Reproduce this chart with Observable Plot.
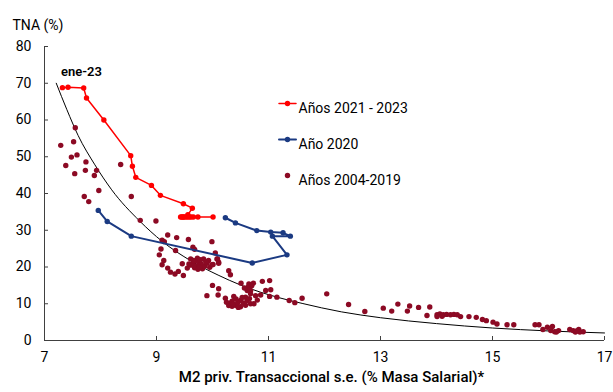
<!DOCTYPE html>
<html>
<head>
<meta charset="utf-8">
<script src="https://cdn.jsdelivr.net/npm/d3@7"></script>
<script src="https://cdn.jsdelivr.net/npm/@observablehq/plot@0.6"></script>
<style>
  html, body { margin: 0; padding: 0; background: #fff; }
  #chart svg { font-family: Roboto, "Noto Sans", sans-serif; display: block; }
</style>
</head>
<body>
<div id="chart"></div>
<script>
// ---- Tick labels ----
const xTicks = [7, 9, 11, 13, 15, 17];
const yTicks = [0, 10, 20, 30, 40, 50, 60, 70, 80];

// ---- Texts ----
const yTitle = "TNA (%)";
const xTitle = "M2 priv. Transaccional s.e. (% Masa Salarial)*";
const annotation = "ene-23";
const seriesNames = ["Años 2021 - 2023", "Año 2020", "Años 2004-2019"];

// ---- Series: Años 2004-2019 (x = M2 % masa salarial, y = TNA %) ----
const histX = [
  7.55, 7.29, 7.52, 7.48, 7.58, 7.38, 7.74, 7.73, 7.54, 7.93, 7.89, 8.36, 7.97, 7.71, 7.79, 8.55, 8.71, 8.99,
  9.20, 9.36, 9.57, 9.14, 9.10, 9.08, 9.34, 9.65, 9.68, 9.99, 10.05, 10.08, 9.05, 9.13, 9.10, 9.20, 9.25, 9.33,
  9.39, 9.46, 9.48, 9.55, 9.61, 9.73, 9.84, 9.93, 9.82, 9.99, 10.11, 10.09, 9.65, 9.70, 9.76, 9.80, 9.68, 9.74,
  9.86, 9.90, 9.62, 9.72, 9.78, 9.88, 9.66, 9.58, 9.95, 9.77, 10.01, 10.11, 10.29, 10.32,
  10.00, 10.11, 9.90, 10.10, 10.23, 10.51, 10.65, 10.73, 10.89, 11.02, 10.68, 10.62, 10.68, 10.59, 10.77, 10.86,
  10.95, 11.04, 11.02, 11.15, 11.37, 11.47, 10.38, 10.35, 10.29, 10.35, 10.41, 10.50, 10.59, 10.68, 10.74, 10.50,
  10.62, 10.45, 10.55, 10.32, 10.42, 10.64, 10.57, 10.70, 10.46, 10.25, 10.37, 10.66, 10.53, 10.80,
  11.60, 12.04, 12.43, 12.72, 13.05, 13.20, 13.31, 13.48, 13.52, 13.68, 13.88, 13.83, 14.01, 14.06, 14.12, 14.18,
  14.25, 14.31, 14.37, 14.01, 14.10, 14.43, 14.58, 14.71, 14.82, 14.89, 15.01, 15.08, 15.26, 15.38, 15.76, 15.83,
  15.90, 15.98, 16.07, 16.04, 16.11, 16.18, 16.38, 16.44, 16.48, 16.54, 16.62, 16.56, 16.14, 16.50
];
const histY = [
  57.9, 53.1, 54.1, 49.9, 50.5, 47.6, 48.6, 46.3, 45.4, 46.3, 44.9, 47.9, 40.8, 39.2, 37.8, 39.2, 32.7, 32.5,
  28.7, 28.0, 27.5, 26.9, 27.3, 24.9, 24.5, 25.4, 24.8, 26.9, 23.8, 22.2, 23.3, 21.8, 20.6, 19.7, 18.6, 18.1,
  18.8, 20.9, 17.7, 19.7, 22.2, 22.4, 22.2, 21.8, 19.5, 20.6, 21.3, 22.2, 21.0, 20.3, 21.2, 20.8, 19.8, 19.4,
  20.2, 21.0, 20.5, 21.7, 22.0, 21.5, 21.8, 20.8, 19.9, 19.9, 20.7, 21.0, 19.0, 17.9,
  15.0, 14.1, 12.2, 12.4, 11.5, 15.6, 15.4, 15.6, 16.1, 16.3, 13.6, 13.6, 12.7, 11.8, 12.2, 12.4,
  13.6, 13.8, 12.0, 11.8, 10.9, 10.3, 12.0, 10.7, 9.5, 9.3, 9.6, 9.2, 9.6, 10.0, 10.0, 10.9,
  10.9, 10.3, 10.2, 10.2, 11.3, 14.6, 14.3, 14.9, 9.0, 10.4, 9.9, 11.4, 11.7, 11.0,
  11.5, 12.7, 9.8, 7.9, 8.8, 8.0, 9.9, 8.0, 9.4, 9.0, 9.1, 6.8, 7.0, 7.2, 7.0, 7.1,
  7.0, 7.1, 7.0, 6.5, 6.6, 6.5, 6.5, 6.3, 5.7, 5.4, 5.0, 4.5, 4.3, 4.3, 4.3, 4.3,
  3.0, 3.6, 3.8, 2.7, 2.4, 2.7, 3.0, 2.7, 2.3, 3.0, 2.4, 2.3, 2.3, 2.6
];

// ---- Series: Año 2020 (monthly, in order) ----
const y2020X = [7.96, 8.12, 8.55, 10.71, 11.33, 11.07, 11.39, 11.26, 11.04, 10.79, 10.41, 10.23];
const y2020Y = [35.4, 32.4, 28.4, 21.1, 23.3, 28.4, 28.4, 29.3, 29.5, 29.9, 32.0, 33.4];

// ---- Series: Años 2021 - 2023 (monthly, in order, ends ene-23) ----
const y2123X = [10.01, 9.74, 9.66, 9.62, 9.59, 9.56, 9.53, 9.50, 9.47, 9.45, 9.43, 9.48,
                9.56, 9.64, 9.48, 9.07, 8.91, 8.63, 8.57, 8.54, 8.06, 7.75, 7.70, 7.42, 7.32];
const y2123Y = [33.6, 33.6, 33.6, 33.6, 33.6, 33.6, 33.6, 33.6, 33.6, 33.6, 33.6, 33.6,
                34.2, 36.0, 37.2, 39.5, 42.2, 44.4, 47.4, 50.3, 60.0, 66.0, 68.7, 68.9, 68.8];

// ---- Fitted trend line ----
const fitX = [7.21, 7.4, 7.6, 7.9, 8.2, 8.7, 9.1, 9.6, 10.1, 10.5, 11.2, 11.6, 12.3, 13.0, 14.0, 15.0, 16.0, 17.0];
const fitY = [70, 62.8, 55.8, 47.8, 41.0, 32.5, 27.0, 21.8, 17.8, 15.1, 11.6, 10.1, 7.8, 6.2, 4.6, 3.4, 2.6, 2.05];

// ---- Build tables ----
const hist = histX.map((x, i) => ({x, y: histY[i]}));
const s2020 = y2020X.map((x, i) => ({x, y: y2020Y[i]}));
const s2123 = y2123X.map((x, i) => ({x, y: y2123Y[i]}));
const fit = fitX.map((x, i) => ({x, y: fitY[i]}));
const lastPoint = [s2123[s2123.length - 1]];

const RED = "#FF0000", BLUE = "#1B3A82", DARKRED = "#8C0A24", AXIS = "#404040";
const lineShape = { draw(context, l) { context.moveTo(0, 0); context.lineTo(0, -l); } };

const legendMarks = (i, color, withLine, dyPx) => {
  const marks = [];
  if (withLine) marks.push(Plot.vector([0], {frameAnchor: "top-left", dx: 243, dy: dyPx, length: 17, rotate: 90,
    anchor: "middle", shape: lineShape, stroke: color, strokeWidth: i === 1 ? 2 : 1.5}));
  marks.push(Plot.dot([0], {frameAnchor: "top-left", dx: 243, dy: dyPx, r: 2.7, fill: color}));
  marks.push(Plot.text([seriesNames[i]], {frameAnchor: "top-left", dx: 254, dy: dyPx, text: d => d,
    textAnchor: "start", fontSize: 14, fill: "#000"}));
  return marks;
};

const chart = Plot.plot({
  width: 613,
  height: 392,
  marginLeft: 44,
  marginRight: 9,
  marginTop: 46,
  marginBottom: 52,
  style: {fontFamily: "Roboto, 'Noto Sans', sans-serif", fontSize: "14px", background: "#fff", color: "#000"},
  x: {domain: [xTicks[0], xTicks[xTicks.length - 1]]},
  y: {domain: [yTicks[0], yTicks[yTicks.length - 1]]},
  marks: [
    Plot.axisY({ticks: yTicks, tickSize: -4, tickPadding: 17, label: null, stroke: AXIS, fill: "#000", fontSize: 14}),
    Plot.axisX({ticks: xTicks, tickSize: -4, tickPadding: 16, label: null, stroke: AXIS, fill: "#000", fontSize: 14, tickFormat: d => String(d)}),
    Plot.ruleX([xTicks[0]], {stroke: AXIS, strokeWidth: 1}),
    Plot.ruleY([yTicks[0]], {stroke: AXIS, strokeWidth: 1}),
    Plot.line(fit, {x: "x", y: "y", curve: "monotone-x", stroke: "#000", strokeWidth: 1}),
    Plot.dot(hist, {x: "x", y: "y", r: 2.7, fill: DARKRED}),
    Plot.line(s2020, {x: "x", y: "y", stroke: BLUE, strokeWidth: 2}),
    Plot.dot(s2020, {x: "x", y: "y", r: 2.7, fill: BLUE}),
    Plot.line(s2123, {x: "x", y: "y", stroke: RED, strokeWidth: 1.5}),
    Plot.dot(s2123, {x: "x", y: "y", r: 2.7, fill: RED}),
    Plot.text(lastPoint, {x: "x", y: "y", text: () => annotation, dx: 19, dy: -16, fontSize: 13, fontWeight: 600, fill: "#000"}),
    ...legendMarks(0, RED, true, 57),
    ...legendMarks(1, BLUE, true, 93),
    ...legendMarks(2, DARKRED, false, 129),
    Plot.text([yTitle], {frameAnchor: "top-left", dx: -32, dy: -26, text: d => d, textAnchor: "start", fontSize: 14, fill: "#000"}),
    Plot.text([xTitle], {frameAnchor: "bottom", dx: 7, dy: 41, text: d => d, fontSize: 15, fontWeight: 500, fill: "#000"})
  ]
});
document.getElementById("chart").appendChild(chart);
</script>
</body>
</html>
